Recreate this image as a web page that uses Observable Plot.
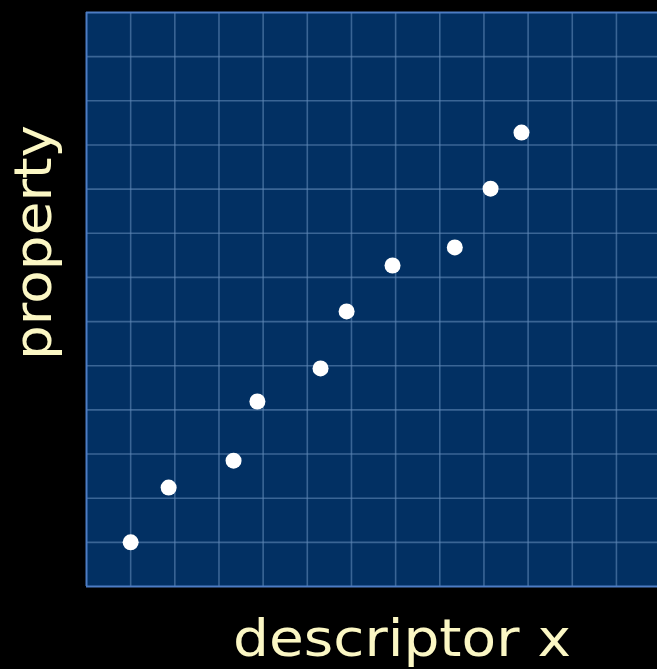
<!DOCTYPE html>
<html>
<head>
<meta charset="utf-8">
<script src="https://cdn.jsdelivr.net/npm/d3@7"></script>
<script src="https://cdn.jsdelivr.net/npm/@observablehq/plot@0.6"></script>
<style>
  html, body { margin: 0; padding: 0; background: #000; }
  #chart svg { display: block; }
</style>
</head>
<body>
<div id="chart"></div>
<script>
// Data (grid units)
const descriptorX = [1.0, 1.86, 3.33, 3.87, 5.30, 5.89, 6.93, 8.34, 9.15, 9.85];
const propertyY   = [1.0, 2.24, 2.85, 4.19, 4.94, 6.23, 7.27, 7.68, 9.01, 10.28];
const gridXTicks = [1,2,3,4,5,6,7,8,9,10,11,12];
const gridYTicks = [1,2,3,4,5,6,7,8,9,10,11,12];
const xLabel = "descriptor x";
const yLabel = "property";

const points = descriptorX.map((x, i) => ({x, y: propertyY[i]}));
const cream = "#fbf7c4";
const font = "DejaVu Sans";

const chart = Plot.plot({
  width: 657,
  height: 669,
  marginLeft: 86,
  marginRight: 0,
  marginTop: 12,
  marginBottom: 83,
  style: {background: "#000", fontFamily: font},
  x: {domain: [0, 12.93], axis: null},
  y: {domain: [0, 13], axis: null},
  marks: [
    Plot.frame({fill: "#023063", stroke: null}),
    Plot.gridX(gridXTicks, {stroke: "#6088b8", strokeOpacity: 0.6, strokeWidth: 1.6}),
    Plot.gridY(gridYTicks, {stroke: "#6088b8", strokeOpacity: 0.6, strokeWidth: 1.6}),
    Plot.ruleX([0], {stroke: "#4d7cc4", strokeWidth: 2}),
    Plot.ruleY([0, 13], {stroke: "#4d7cc4", strokeWidth: 2}),
    Plot.dot(points, {x: "x", y: "y", r: 8, fill: "#ffffff", stroke: null}),
    Plot.text([xLabel], {frameAnchor: "bottom", text: d => d, fill: cream, fontSize: 52,
      textAnchor: "middle", lineAnchor: "bottom", dx: 30, dy: 69}),
    Plot.text([yLabel], {frameAnchor: "left", text: d => d, fill: cream, fontSize: 52,
      textAnchor: "middle", lineAnchor: "bottom", rotate: -90, dx: -36, dy: -57})
  ]
});
// stretch label text to the reference's wider lettering
d3.select(chart).selectAll("text").each(function() {
  const t = this.textContent;
  if (t === xLabel) d3.select(this).attr("textLength", 338).attr("lengthAdjust", "spacingAndGlyphs");
  if (t === yLabel) d3.select(this).attr("textLength", 235).attr("lengthAdjust", "spacingAndGlyphs");
});
document.getElementById("chart").appendChild(chart);
</script>
</body>
</html>
